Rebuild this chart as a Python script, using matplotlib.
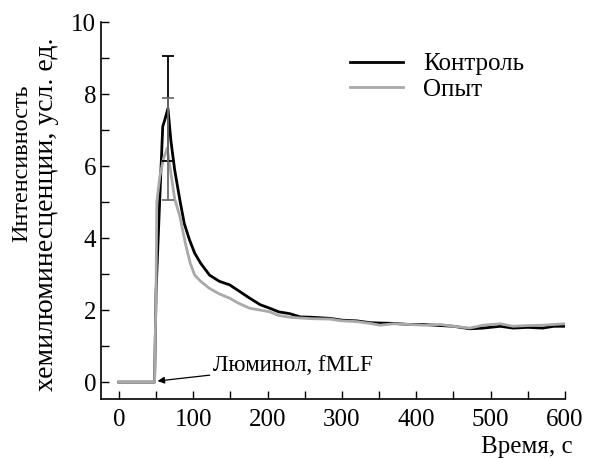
import matplotlib
matplotlib.use("Agg")
import matplotlib.pyplot as plt
from matplotlib.ticker import MultipleLocator

plt.rcParams['font.family'] = ['Liberation Serif', 'DejaVu Serif']

t_ctrl = [0, 48, 50, 55, 59, 62, 66, 70, 75, 82, 88, 95, 102, 110, 122, 135, 149, 160, 176, 190, 203,
          215, 230, 244, 260, 284, 300, 320, 338, 351, 370, 390, 410, 432, 450, 472, 490, 513, 530,
          550, 570, 585, 600]
y_ctrl = [0, 0, 2.5, 5.1, 7.1, 7.3, 7.6, 6.7, 5.9, 5.06, 4.4, 3.95, 3.58, 3.3, 2.97, 2.8, 2.7, 2.55, 2.33,
          2.15, 2.05, 1.95, 1.9, 1.81, 1.8, 1.77, 1.72, 1.7, 1.65, 1.64, 1.63, 1.6, 1.6, 1.57, 1.55, 1.48,
          1.5, 1.55, 1.5, 1.52, 1.5, 1.55, 1.55]

t_exp = [0, 48, 50, 51, 55, 60, 65, 70, 75, 82, 90, 96, 102, 110, 122, 135, 149, 160, 176, 190, 203,
         215, 230, 244, 260, 284, 300, 320, 338, 351, 370, 390, 410, 432, 450, 472, 490, 513, 530,
         550, 570, 585, 600]
y_exp = [0, 0, 2.5, 5.0, 5.7, 6.2, 6.5, 5.8, 5.1, 4.6, 3.8, 3.3, 2.97, 2.8, 2.6, 2.45, 2.33, 2.2, 2.05,
         2.0, 1.95, 1.85, 1.8, 1.78, 1.76, 1.75, 1.7, 1.68, 1.63, 1.58, 1.62, 1.6, 1.58, 1.6, 1.55, 1.5,
         1.58, 1.62, 1.55, 1.57, 1.58, 1.6, 1.62]

err_ctrl_x, err_ctrl_y, err_ctrl = [66], [7.6], [1.45]
err_exp_x, err_exp_y, err_exp = [66], [6.48], [1.42]

fig = plt.figure(figsize=(5.96, 4.59), dpi=100)
ax = fig.add_axes([0.1695, 0.1307, 0.948 - 0.1695, 0.952 - 0.1307])

ax.plot(t_ctrl, y_ctrl, color='black', lw=2.0, label='Контроль', zorder=3)
ax.plot(t_exp, y_exp, color='#a9a9a9', lw=2.0, label='Опыт', zorder=4)
ax.errorbar(err_ctrl_x, err_ctrl_y, yerr=err_ctrl, fmt='none', ecolor='black', elinewidth=1.3,
            capsize=4, capthick=1.3, zorder=5)
ax.errorbar(err_exp_x, err_exp_y, yerr=err_exp, fmt='none', ecolor='#6e6e6e', elinewidth=1.3,
            capsize=4, capthick=1.3, zorder=6)

ax.set_xlim(-24, 600)
ax.set_ylim(-0.47, 10)
ax.xaxis.set_major_locator(MultipleLocator(100))
ax.xaxis.set_minor_locator(MultipleLocator(50))
ax.yaxis.set_major_locator(MultipleLocator(2))
ax.yaxis.set_minor_locator(MultipleLocator(1))
ax.tick_params(which='both', direction='in', length=6, width=1, labelsize=18)
ax.tick_params(axis='x', pad=7)
ax.spines['top'].set_visible(False)
ax.spines['right'].set_visible(False)
for s in ('left', 'bottom'):
    ax.spines[s].set_linewidth(1.2)

# y label: two separately placed lines
fig.text(22 / 596, 1 - 163 / 459, 'Интенсивность', rotation=90, fontsize=17.5,
         ha='center', va='center')
fig.text(47 / 596, 1 - 214 / 459, 'хемилюминесценции, усл. ед.', rotation=90, fontsize=20,
         ha='center', va='center')

ax.set_xlabel('Время, с', fontsize=18)
ax.xaxis.set_label_coords(1.017, -0.099)
ax.xaxis.label.set_horizontalalignment('right')

ax.annotate('Люминол, fMLF', xy=(52, 0.03), xytext=(126, 0.45), fontsize=16.5,
            va='center', ha='left',
            arrowprops=dict(arrowstyle='-|>', color='black', lw=0.9, mutation_scale=10,
                            shrinkA=0, shrinkB=0))

leg = ax.legend(loc='upper left', bbox_to_anchor=(0.515, 0.945), frameon=False, fontsize=18,
                handlelength=2.14, handletextpad=0.8, labelspacing=0.12, borderaxespad=0)

fig.savefig('out.png', dpi=100)
